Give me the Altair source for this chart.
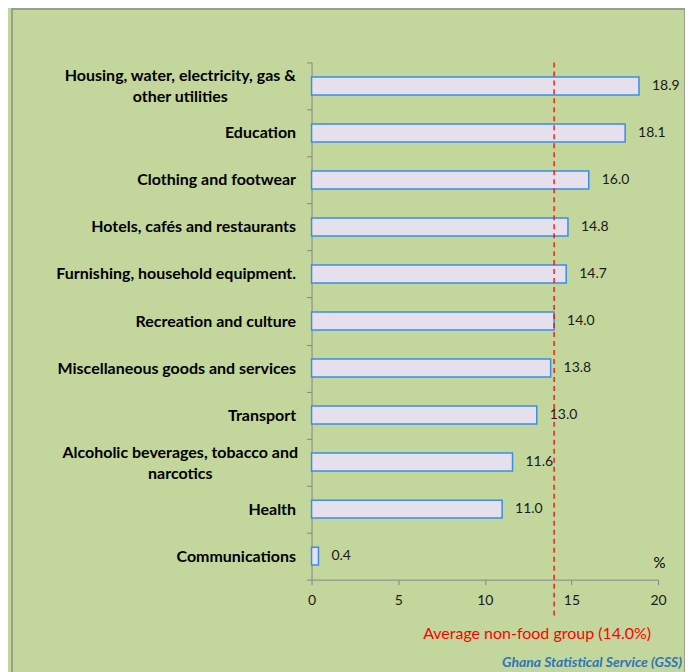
import altair as alt
import pandas as pd

categories = [
    "Housing, water, electricity, gas &\nother utilities",
    "Education",
    "Clothing and footwear",
    "Hotels, cafés and restaurants",
    "Furnishing, household equipment.",
    "Recreation and culture",
    "Miscellaneous goods and services",
    "Transport",
    "Alcoholic beverages, tobacco and\nnarcotics",
    "Health",
    "Communications",
]
values = [18.9, 18.1, 16.0, 14.8, 14.7, 14.0, 13.8, 13.0, 11.6, 11.0, 0.4]
average = 14.0
avg_label = "Average non-food group (14.0%)"
source = "Ghana Statistical Service (GSS)"
x_ticks = [0, 5, 10, 15, 20]

df = pd.DataFrame({"cat": categories, "val": values})
FONT = "Lato"

MULTI = "isValid(datum.value) && indexof(datum.value, '\\n') >= 0"

xscale = alt.Scale(domain=[0, 20], nice=False)
yenc = alt.Y(
    "cat:N",
    sort=categories,
    scale=alt.Scale(paddingInner=0.0, paddingOuter=0.0),
    axis=alt.Axis(
        title=None,
        labelExpr="isValid(datum.value) ? split(datum.value, '\\n') : ''",
        labelFont=FONT,
        labelFontWeight="bold",
        labelFontSize=16,
        labelColor="#000000",
        labelLineHeight=21,
        labelAlign={"condition": {"test": MULTI, "value": "center"}, "value": "right"},
        labelPadding={"condition": {"test": MULTI, "value": 127}, "value": 11},
        labelOffset={"condition": {"test": MULTI, "value": -10}, "value": 0},
        labelLimit=400,
        tickSize=5,
        tickBand="extent",
        tickColor="#868686",
        domainColor="#868686",
    ),
)

bars = alt.Chart(df).mark_bar(
    size=18, fill="#E6E0EC", stroke="#3A8EE6", strokeWidth=1.5
).encode(
    x=alt.X(
        "val:Q",
        scale=xscale,
        axis=alt.Axis(
            values=x_ticks,
            title="%",
            titleFont=FONT,
            titleFontWeight="normal",
            titleFontSize=15,
            titleColor="#000000",
            titleAnchor="end",
            titleAlign="center",
            titleBaseline="middle",
            titleX=348,
            titleY=-17,
            labelFont=FONT,
            labelFontSize=14,
            labelColor="#1a1a1a",
            labelPadding=9,
            labelFlush=False,
            tickSize=5,
            tickColor="#868686",
            domainColor="#868686",
            grid=False,
        ),
    ),
    y=yenc,
)

labels = alt.Chart(df).mark_text(
    align="left", baseline="middle", dx=13, font=FONT, fontSize=14, color="#1a1a1a"
).encode(
    x=alt.X("val:Q", scale=xscale),
    y=alt.Y("cat:N", sort=categories),
    text=alt.Text("val:Q", format=".1f"),
)

avg_df = pd.DataFrame({"avg": [average], "label": [avg_label]})
avg_rule = alt.Chart(avg_df).mark_rule(
    color="#FF0000", strokeDash=[5, 4], strokeWidth=1.3
).encode(
    x=alt.X("avg:Q", scale=xscale),
    y=alt.value(0),
    y2=alt.value(556),
)
avg_text = alt.Chart(avg_df).mark_text(
    align="center", baseline="middle", dx=-17, font=FONT, fontSize=16, color="#FF0000"
).encode(
    x=alt.X("avg:Q", scale=xscale),
    y=alt.value(572),
    text="label:N",
)

src_df = pd.DataFrame({"t": [source]})
src_text = alt.Chart(src_df).mark_text(
    align="right", baseline="middle", font=FONT, fontSize=14, fontWeight="bold",
    fontStyle="italic", color="#2E75B6",
).encode(x=alt.value(371), y=alt.value(601), text="t:N")

border = alt.Chart(src_df).mark_rect(
    fill=None, stroke="#8c8c8c", strokeWidth=1.5
).encode(x=alt.value(-300), x2=alt.value(374), y=alt.value(0.5 - 54), y2=alt.value(700))

chart = alt.layer(border, bars, labels, avg_rule, avg_text, src_text).properties(
    width=347,
    height=518,
    autosize=alt.AutoSizeParams(type="none"),
    padding={"left": 304, "top": 54, "right": 27, "bottom": 92},
    background="#C3D69B",
).configure_view(stroke=None)

chart.save("out.html", embed_options={"renderer": "svg", "actions": False})
